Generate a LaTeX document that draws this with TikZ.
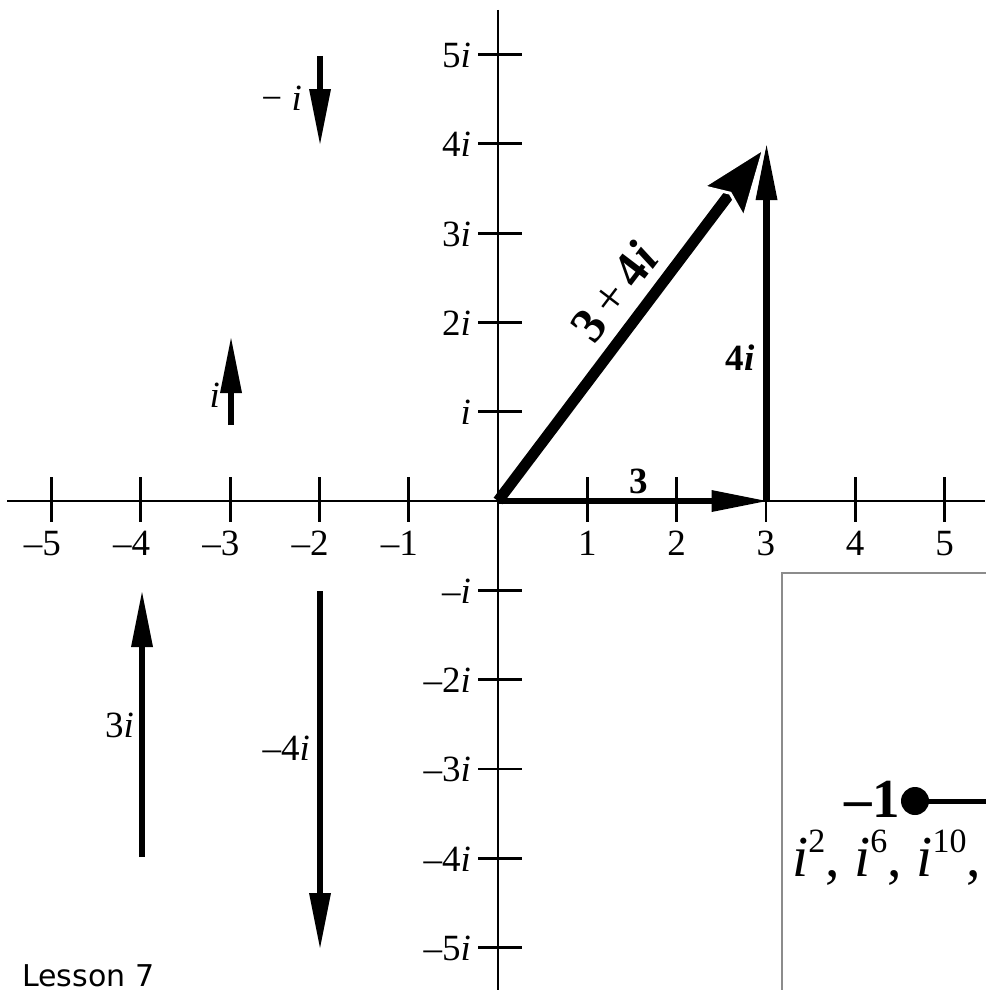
\documentclass[tikz,border=0pt]{standalone}
\usepackage{fontspec}
\setmainfont{Liberation Serif}
\newfontfamily\lessonfont{DejaVu Sans}
\usetikzlibrary{arrows.meta}
\definecolor{boxgray}{RGB}{140,140,140}
\newcommand{\ii}{\textit{i}}
\newcommand{\supr}[1]{\raisebox{0.40em}{\fontsize{34}{36}\selectfont #1}}
\begin{document}
\begin{tikzpicture}[x=1pt,y=-1pt,
  axisline/.style={line width=2.8pt},
  tickline/.style={line width=2.8pt},
  lbl/.style={inner sep=0pt, font=\fontsize{37}{40}\selectfont},
  blbl/.style={inner sep=0pt, font=\fontsize{37}{40}\selectfont\bfseries},
  vec/.style={line width=6.5pt, -{Triangle[length=55pt,width=22pt,line width=0pt]}},
  bigvec/.style={line width=11pt, -{Stealth[length=74pt,width=56pt,inset=12pt,line width=3pt,color=white,fill=black]}}
 ]
\useasboundingbox (0,0) rectangle (985,990);
\coordinate (O) at (498,501);
% axes
\draw[axisline] (7,501) -- (985,501);
\draw[axisline] (498,10) -- (498,990);
% x ticks
\foreach \k in {-5,-4,-3,-2,-1,1,2,3,4,5}{
  \draw[tickline] ({498+89.3*\k},477) -- ({498+89.3*\k},522);
}
\foreach \k in {1,2,3,4,5}{
  \node[lbl,anchor=base] at ({498+89.3*\k},555) {\k};
  \node[lbl,anchor=base] at ({498-89.3*\k},555) {\llap{–}\k};
}
% y ticks
\foreach \k in {-5,-4,-3,-2,-1,1,2,3,4,5}{
  \draw[tickline] (478,{501-89.3*\k}) -- (522,{501-89.3*\k});
}
\foreach \k in {2,3,4,5}{
  \node[lbl,anchor=base east] at (471,{501-89.3*\k+13}) {\k\ii};
  \node[lbl,anchor=base east] at (471,{501+89.3*\k+13}) {–\k\ii};
}
\node[lbl,anchor=base east] at (471,{501-89.3+13}) {\ii};
\node[lbl,anchor=base east] at (471,{501+89.3+13}) {–\ii};
% main vectors
\coordinate (A3) at (766.5,501);
\coordinate (T) at (766.5,145);
\draw[vec] (O) -- (A3);
\draw[vec] (A3) -- (T);
\draw[bigvec] (O) -- (T);
\node[blbl] (l3) at (639,481) {3};
\node[blbl] (l4i) at (740,358) {4\ii};
\node[inner sep=0pt,font=\fontsize{50}{54}\selectfont\bfseries,rotate=52.7] (l34i) at (614,292) {3\,{\mdseries +}\,4\ii};
% small vectors
\coordinate (m1s) at (320,56);  \coordinate (m1e) at (320,144);
\draw[vec] (m1s) -- (m1e);
\node[lbl,anchor=base east] (lm1) at (302,110) {− \ii};
\coordinate (p1s) at (231,425); \coordinate (p1e) at (231,338);
\draw[vec] (p1s) -- (p1e);
\node[lbl,anchor=base east] (lp1) at (220,407) {\ii};
\coordinate (p3s) at (142,857); \coordinate (p3e) at (142,592);
\draw[vec] (p3s) -- (p3e);
\node[lbl,anchor=base east] (lp3) at (134,737) {3\ii};
\coordinate (m4s) at (320,591); \coordinate (m4e) at (320,948);
\draw[vec] (m4s) -- (m4e);
\node[lbl,anchor=base east] (lm4) at (310,760) {–4\ii};
% inset box
\draw[boxgray,line width=2.5pt] (782,995) -- (782,573) -- (995,573);
\coordinate (dot) at (915,801);
\draw[line width=5pt] (dot) -- (995,801);
\fill (dot) circle (14);
\node[inner sep=0pt,anchor=base east,font=\fontsize{55}{58}\selectfont\bfseries] (lm1b) at (900,817) {–1};
\node[inner sep=0pt,anchor=base west,font=\fontsize{58}{62}\selectfont] (pw) at (792,876) {\ii\supr{2}, \ii\supr{6}, \ii\supr{10},};
% footer
\node[inner sep=0pt,anchor=base west,font=\fontsize{30}{34}\selectfont\lessonfont] (lesson) at (22,986) {Lesson 7};
\end{tikzpicture}
\end{document}
